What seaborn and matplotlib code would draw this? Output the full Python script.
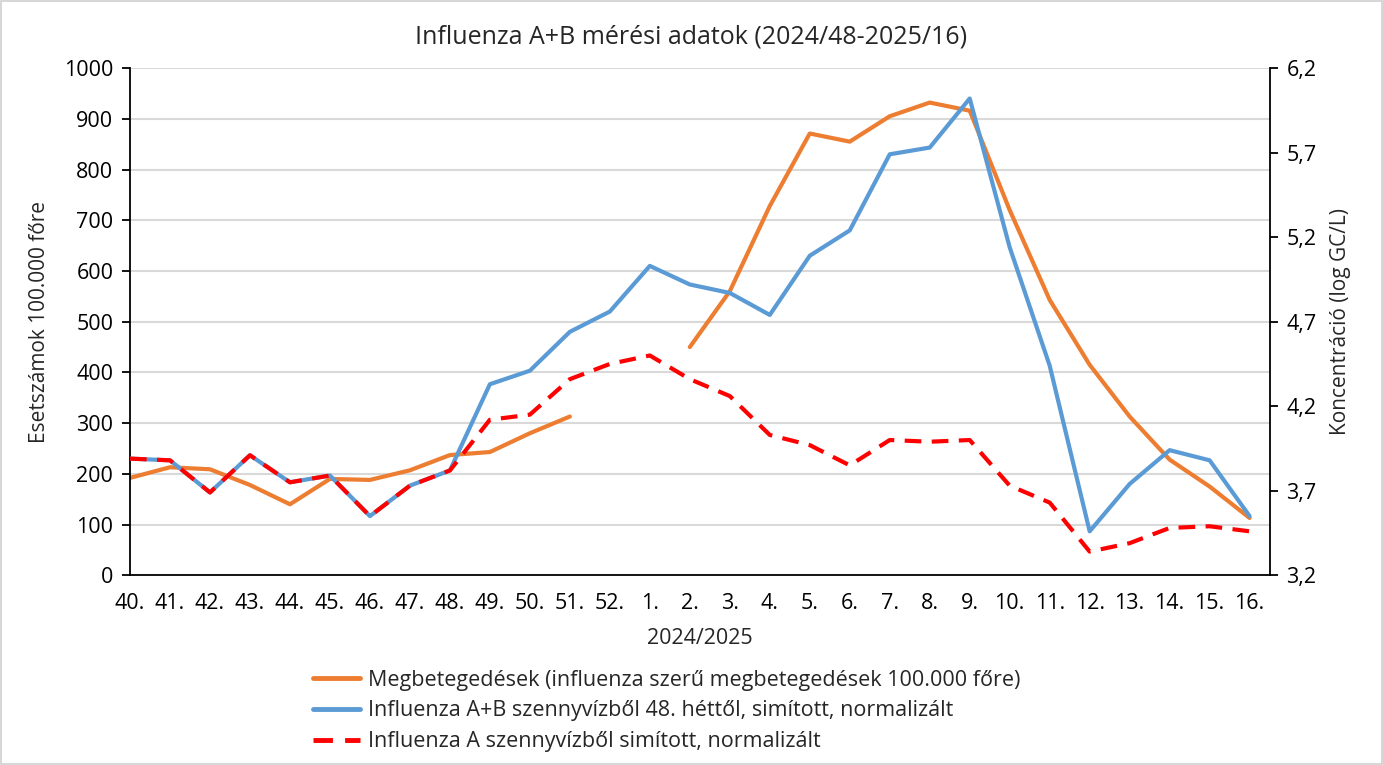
import numpy as np
import pandas as pd
import seaborn as sns
import matplotlib.pyplot as plt
from matplotlib.lines import Line2D
from matplotlib.patches import Rectangle

weeks = ['40.', '41.', '42.', '43.', '44.', '45.', '46.', '47.', '48.', '49.', '50.', '51.', '52.',
         '1.', '2.', '3.', '4.', '5.', '6.', '7.', '8.', '9.', '10.', '11.', '12.', '13.', '14.', '15.', '16.']

# esetszam 100.000 fore (bal tengely), 52. es 1. het hianyzik
cases = [192, 213, 209, 178, 140, 190, 188, 207, 237, 243, 280, 313, np.nan,
         np.nan, 450, 560, 728, 871, 855, 905, 932, 916, 720, 543, 415, 313, 228, 175, 113]

# log GC/L (jobb tengely)
ab_ww = [3.89, 3.88, 3.69, 3.91, 3.75, 3.79, 3.55, 3.73, 3.82, 4.33, 4.41, 4.64, 4.76,
         5.03, 4.92, 4.87, 4.74, 5.09, 5.24, 5.69, 5.73, 6.02, 5.14, 4.44, 3.46, 3.74, 3.94, 3.88, 3.55]
a_ww = [3.89, 3.88, 3.69, 3.91, 3.75, 3.79, 3.55, 3.73, 3.82, 4.12, 4.15, 4.36, 4.45,
        4.50, 4.36, 4.26, 4.03, 3.97, 3.85, 4.00, 3.99, 4.00, 3.73, 3.63, 3.34, 3.39, 3.48, 3.49, 3.46]

ORANGE = '#ED7D31'
BLUE = '#5B9BD5'
RED = '#FF0000'

df = pd.DataFrame({'pos': np.arange(len(weeks)), 'cases': cases, 'ab': ab_ww, 'a': a_ww})
# szakaszok, hogy a hianyzo hetek helyen megszakadjon a vonal
df['seg'] = df['cases'].isna().cumsum()
df_cases = df.dropna(subset=['cases'])

sns.set_style('white')
plt.rcParams['font.family'] = ['Open Sans', 'DejaVu Sans']

fig = plt.figure(figsize=(13.83, 7.65), dpi=100)
ax = fig.add_axes([0.094, 0.248, 0.824, 0.663])
ax2 = ax.twinx()

sns.lineplot(data=df_cases, x='pos', y='cases', units='seg', estimator=None,
             color=ORANGE, linewidth=3, ax=ax)
sns.lineplot(data=df, x='pos', y='ab', color=BLUE, linewidth=3, ax=ax2)
sns.lineplot(data=df, x='pos', y='a', color=RED, linewidth=3, linestyle=(0, (4, 2.5)), ax=ax2)

ax.set_xlim(0, 28.5)
ax.set_ylim(0, 1000)
ax.set_yticks(range(0, 1001, 100))
ax2.set_ylim(3.2, 6.2)
ax2.set_yticks([3.2, 3.7, 4.2, 4.7, 5.2, 5.7, 6.2])
ax2.set_yticklabels([f'{v:.1f}'.replace('.', ',') for v in [3.2, 3.7, 4.2, 4.7, 5.2, 5.7, 6.2]])
ax.set_xticks(df['pos'])
ax.set_xticklabels(weeks)

ax.grid(axis='y', color='#d9d9d9', linewidth=1.5)
ax.set_axisbelow(True)
for a in (ax, ax2):
    a.spines['top'].set_visible(False)
    for s in ('left', 'right', 'bottom'):
        a.spines[s].set_color('black')
        a.spines[s].set_linewidth(1.3)
    a.tick_params(axis='both', direction='out', length=6, width=1.3, color='black',
                  labelsize=15.5, colors='black')
ax.spines['right'].set_visible(False)
ax2.spines['left'].set_visible(False)
ax2.spines['bottom'].set_visible(False)
ax.tick_params(axis='x', pad=7)
ax.tick_params(axis='y', pad=6)
ax2.tick_params(axis='y', pad=6)

ax.set_xlabel('2024/2025', fontsize=15.5, labelpad=10)
ax.set_ylabel('Esetszámok 100.000 főre', fontsize=15, labelpad=10)
ax2.set_ylabel('Koncentráció (log GC/L)', fontsize=15, labelpad=10)
fig.suptitle('Influenza A+B mérési adatok (2024/48-2025/16)', fontsize=18, y=0.952, va='center')

handles = [Line2D([], [], color=ORANGE, lw=3.5),
           Line2D([], [], color=BLUE, lw=3.5),
           Line2D([], [], color=RED, lw=3.5, linestyle=(0, (4, 2.5)))]
labels = ['Megbetegedések (influenza szerű megbetegedések 100.000 főre)',
          'Influenza A+B szennyvízből 48. héttől, simított, normalizált',
          'Influenza A szennyvízből simított, normalizált']
fig.legend(handles, labels, loc='center', bbox_to_anchor=(0.482, 0.0706), frameon=False,
           fontsize=15.5, handlelength=2.2, handletextpad=0.35, labelspacing=0.45)

fig.patches.append(Rectangle((0.001, 0.001), 0.998, 0.998, transform=fig.transFigure,
                             fill=False, edgecolor='#d0d0d0', linewidth=1.2))

fig.savefig('out.png', dpi=100)
